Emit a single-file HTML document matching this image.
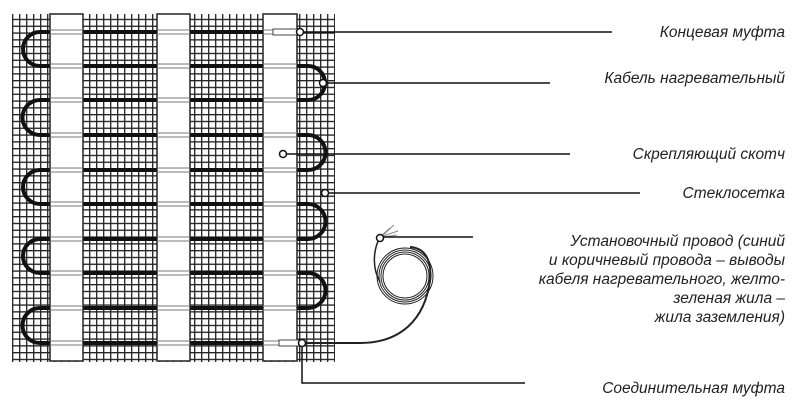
<!DOCTYPE html>
<html><head><meta charset="utf-8"><style>
html,body{margin:0;padding:0;background:#fff;}
svg{display:block}
text{font-family:"Liberation Sans",sans-serif;font-style:italic;font-size:15.5px;fill:#222;}
</style></head><body>
<svg width="800" height="402" viewBox="0 0 800 402" xmlns="http://www.w3.org/2000/svg">
<defs>
<pattern id="g" x="12" y="12" width="7" height="6.8" patternUnits="userSpaceOnUse">
<path d="M0.7 0V6.8M0 0.7H7" stroke="#222" stroke-width="1.3"/>
</pattern>
</defs>
<rect x="12" y="14" width="323" height="348" fill="url(#g)"/>
<g fill="none" stroke="#111" stroke-width="4">
<path d="M290 32 H40 A17 17 0 0 0 40 66 H308 A17 17 0 0 1 308 100 H40 A17.5 17.5 0 0 0 40 135 H308 A17.5 17.5 0 0 1 308 170 H40 A17 17 0 0 0 40 204 H308 A17.5 17.5 0 0 1 308 239 H40 A17 17 0 0 0 40 273 H308 A17.5 17.5 0 0 1 308 308 H40 A17.5 17.5 0 0 0 40 343 H290"/>
</g>
<g fill="#fff" stroke="#222" stroke-width="1.5">
<rect x="50" y="14" width="33" height="347"/>
<rect x="157" y="14" width="33" height="347"/>
<rect x="263" y="14" width="34" height="347"/>
</g>
<g stroke="#777" stroke-width="1">
<path d="M50 30H83M50 34H83M157 30H190M157 34H190M263 30H297M263 34H297"/>
<path d="M50 64H83M50 68H83M157 64H190M157 68H190M263 64H297M263 68H297"/>
<path d="M50 98H83M50 102H83M157 98H190M157 102H190M263 98H297M263 102H297"/>
<path d="M50 133H83M50 137H83M157 133H190M157 137H190M263 133H297M263 137H297"/>
<path d="M50 168H83M50 172H83M157 168H190M157 172H190M263 168H297M263 172H297"/>
<path d="M50 202H83M50 206H83M157 202H190M157 206H190M263 202H297M263 206H297"/>
<path d="M50 237H83M50 241H83M157 237H190M157 241H190M263 237H297M263 241H297"/>
<path d="M50 271H83M50 275H83M157 271H190M157 275H190M263 271H297M263 275H297"/>
<path d="M50 306H83M50 310H83M157 306H190M157 310H190M263 306H297M263 310H297"/>
<path d="M50 341H83M50 345H83M157 341H190M157 345H190M263 341H297M263 345H297"/>
</g>
<rect x="273" y="29" width="27" height="6" fill="#fff" stroke="#444" stroke-width="1"/>
<rect x="279" y="340" width="22" height="6" fill="#fff" stroke="#444" stroke-width="1"/>
<g fill="none" stroke="#222">
<path d="M305 343 H360 C400 343 425 320 430 280 C432 260 425 248 410 247" stroke-width="2"/>
<circle cx="405" cy="276" r="28" stroke-width="1"/>
<circle cx="405" cy="276" r="26" stroke-width="1"/>
<circle cx="405" cy="276" r="24" stroke-width="1"/>
<circle cx="405" cy="276" r="22" stroke-width="1"/>
<path d="M380 237 C373 250 372 268 380 282" stroke-width="1.5"/>
<path d="M380 237 L390 228 M382 236 L394 225 M383 236 L398 231 M384 237 L397 235" stroke="#888" stroke-width="1"/>
</g>
<g stroke="#111" stroke-width="1.5" fill="none">
<path d="M303 32H612"/>
<path d="M326 83H550"/>
<path d="M286 154H570"/>
<path d="M328 193H640"/>
<path d="M383 237H473"/>
<path d="M302 346V383H525"/>
</g>
<g fill="#fff" stroke="#111" stroke-width="1.5">
<circle cx="300" cy="32" r="3.5"/>
<circle cx="323" cy="83" r="3.5"/>
<circle cx="283" cy="154" r="3.5"/>
<circle cx="325" cy="193" r="3.5"/>
<circle cx="380" cy="238" r="3.5"/>
<circle cx="302" cy="343" r="3.5"/>
</g>
<g text-anchor="end">
<text x="785" y="37">Концевая муфта</text>
<text x="785" y="83">Кабель нагревательный</text>
<text x="785" y="159">Скрепляющий скотч</text>
<text x="785" y="198">Стеклосетка</text>
<text x="785" y="246">Установочный провод (синий</text>
<text x="785" y="265">и коричневый провода –  выводы</text>
<text x="785" y="284">кабеля нагревательного, желто-</text>
<text x="785" y="303">зеленая жила –</text>
<text x="785" y="322">жила заземления)</text>
<text x="785" y="393">Соединительная муфта</text>
</g>
</svg>
</body></html>
